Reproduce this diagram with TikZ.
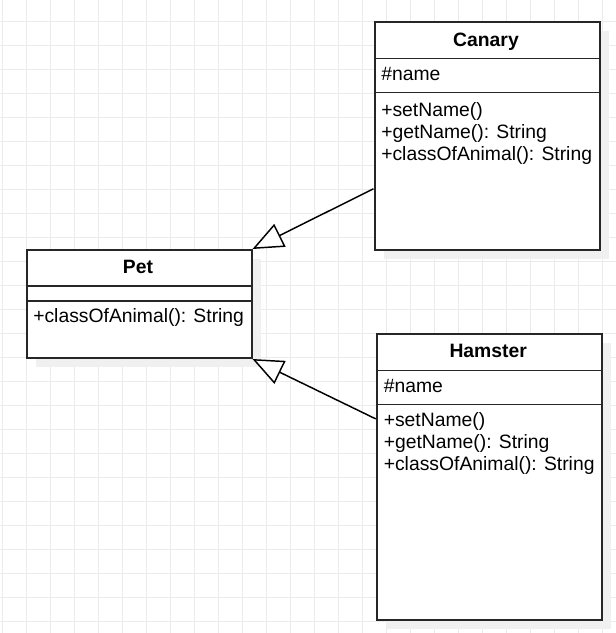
\documentclass[tikz,border=0pt]{standalone}
\usepackage{fontspec}
\setmainfont{Liberation Sans}
\usetikzlibrary{arrows.meta}

\begin{document}
\begin{tikzpicture}[
        x=0.75pt,
        y=-0.75pt,
        font=\fontsize{14.5}{16.5}\selectfont,
        gridline/.style={black!8, line width=0.75pt},
        shadow/.style={fill=black!6, draw=none},
        classbox/.style={draw=black!85, line width=1.5pt, fill=white, anchor=north west, inner sep=0pt, minimum width=168.75pt},
        divider/.style={draw=black!85, line width=1pt},
        title/.style={font=\fontsize{14.5}{16.5}\selectfont\bfseries, anchor=base, inner sep=0pt},
        member/.style={anchor=base west, inner sep=0pt},
        inherit/.style={line width=1.1pt, -{Triangle[fill=white, length=23pt, width=19pt]}}
    ]
        \useasboundingbox (0,0) rectangle (616,633);

        % Background grid, 24px pitch.
        \foreach \x in {2.5,26.5,...,602.5} {
            \draw[gridline] (\x,0) -- (\x,633);
        }
        \foreach \y in {21.5,45.5,...,621.5} {
            \draw[gridline] (0,\y) -- (616,\y);
        }

        % Drop shadows behind the class boxes.
        \fill[shadow] (383.5,31) rectangle (608.5,258.7);
        \fill[shadow] (35.5,259) rectangle (260.5,367);
        \fill[shadow] (385.7,342.7) rectangle (610.7,628.7);

        % Class boxes.
        \node[classbox, minimum height=170.8pt] (canary) at (373.5,21) {};
        \node[classbox, minimum height=81pt] (pet) at (25.5,249) {};
        \node[classbox, minimum height=214.5pt] (hamster) at (375.7,332.7) {};

        \draw[divider] (canary.north west) ++(0,37.3) -- ++(225,0);
        \draw[divider] (canary.north west) ++(0,71.7) -- ++(225,0);
        \draw[divider] (pet.north west) ++(0,37) -- ++(225,0);
        \draw[divider] (pet.north west) ++(0,52) -- ++(225,0);
        \draw[divider] (hamster.north west) ++(0,38) -- ++(225,0);
        \draw[divider] (hamster.north west) ++(0,72) -- ++(225,0);

        % Titles.
        \node[title] (canary title) at (486,46) {Canary};
        \node[title] (pet title) at (138,273.7) {Pet};
        \node[title] (hamster title) at (488.2,357.3) {Hamster};

        % Attributes and operations.
        \node[member] (canary attr) at (381,80) {\#name};
        \foreach \y/\txt [count=\i] in {116/+setName(),138/+getName(): String,160/+classOfAnimal(): String} {
            \node[member] (canary op\i) at (381,\y) {\txt};
        }
        \node[member] (pet op1) at (33,322.7) {+classOfAnimal(): String};
        \node[member] (hamster attr) at (383.5,392.3) {\#name};
        \foreach \y/\txt [count=\i] in {426.7/+setName(),448.7/+getName(): String,470.7/+classOfAnimal(): String} {
            \node[member] (hamster op\i) at (383.5,\y) {\txt};
        }

        % Generalisation arrows.
        \draw[inherit] (canary.205.7) -- (pet.north east);
        \draw[inherit] (hamster.153.7) -- (pet.south east);
    \end{tikzpicture}
\end{document}
